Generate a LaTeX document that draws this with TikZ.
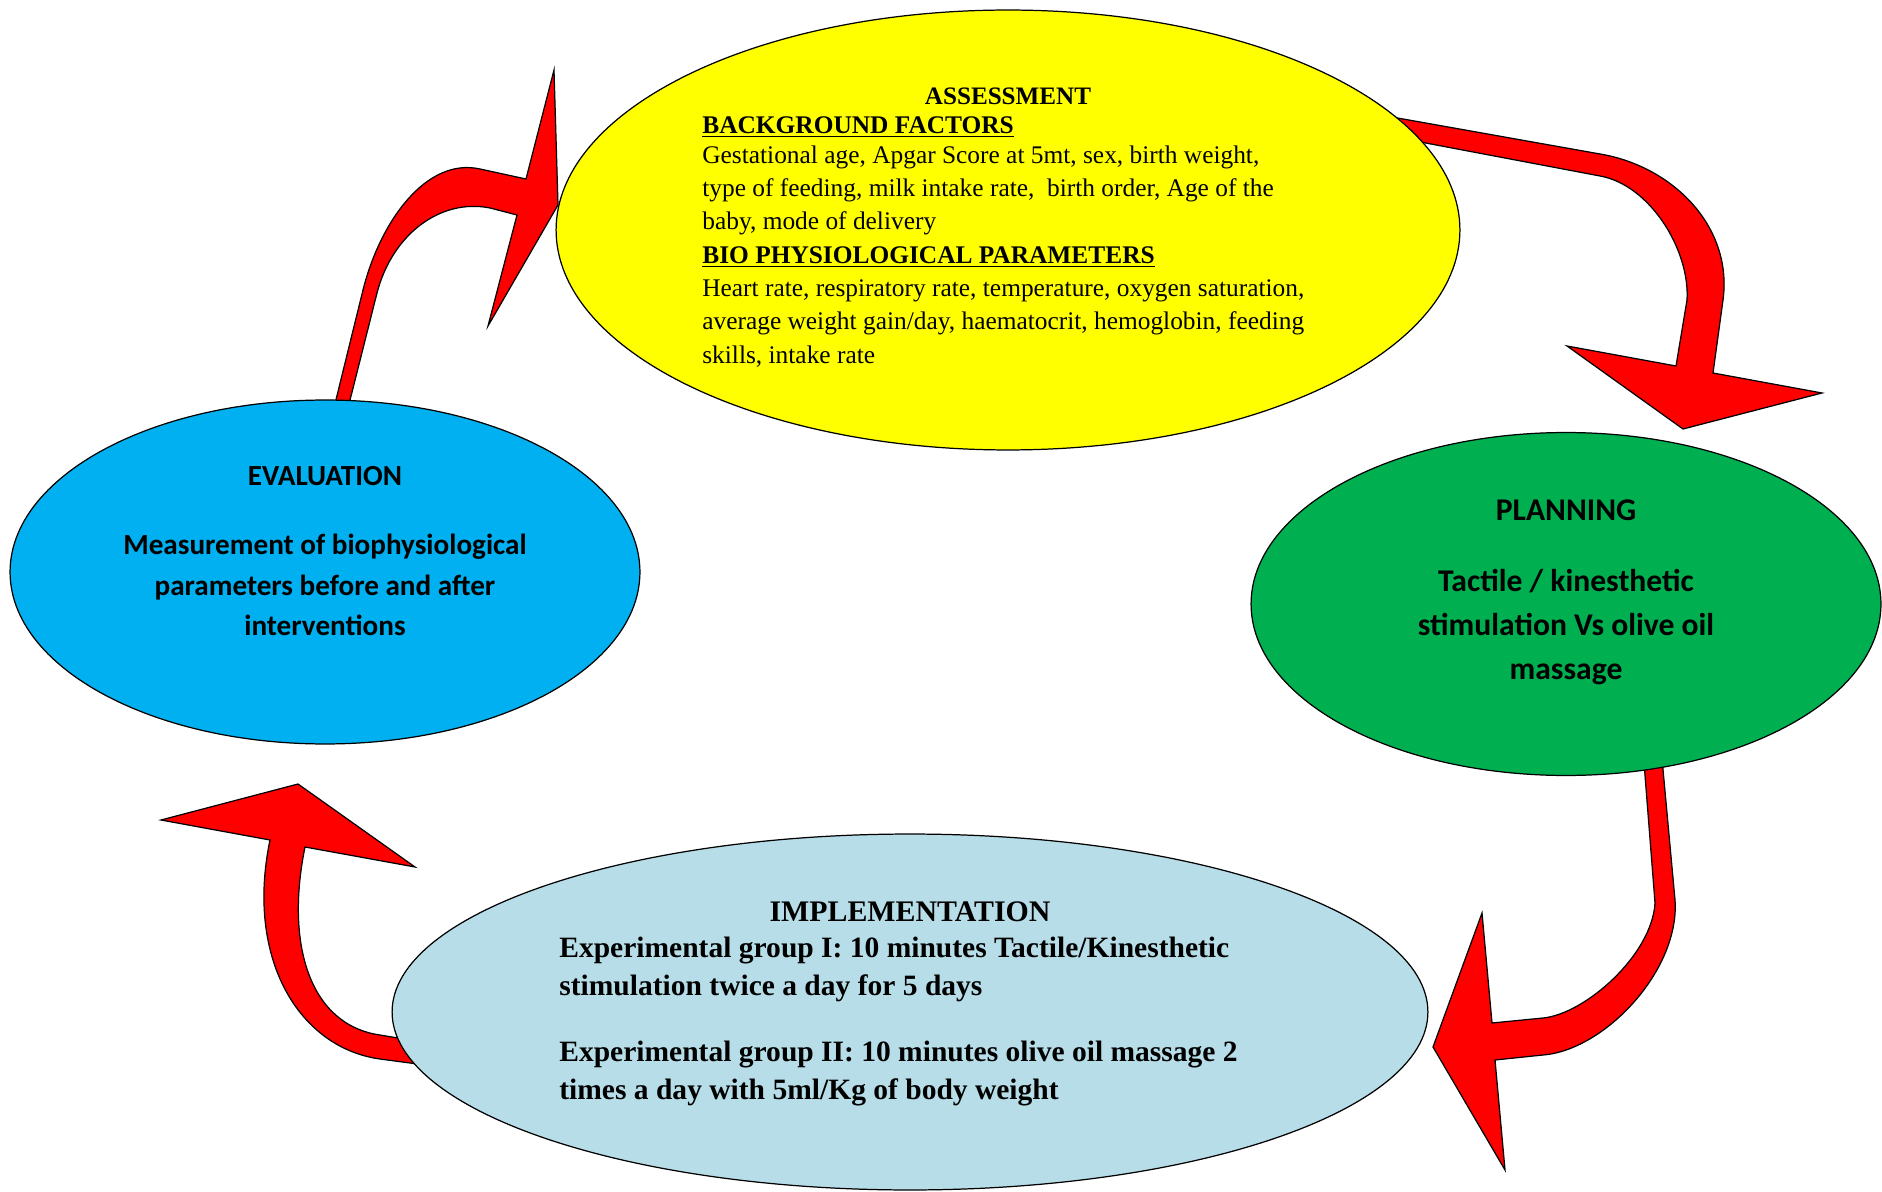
\documentclass[tikz,border=0pt]{standalone}
\usepackage{fontspec}
\setmainfont{Liberation Serif}
\newfontfamily\calib{Carlito}
\usetikzlibrary{shapes.geometric}
\newcommand{\ulhead}[1]{\leavevmode\vtop{\hbox{#1}\kern1.2pt\hrule height 1.1pt}}

\begin{document}
\begin{tikzpicture}[x=0.02cm, y=-0.02cm,
  stage/.style={ellipse, draw=black, line width=0.7pt, inner sep=0pt},
  redarrow/.style={draw=black, fill=red, line width=0.7pt, line join=miter},
  serifhead/.style={inner sep=0pt, font=\fontsize{14.3}{19}\selectfont\bfseries},
  sanshead/.style={inner sep=0pt, font=\calib\bfseries\fontsize{16.6}{23.2}\selectfont}]

\useasboundingbox (0,0) rectangle (1882,1192);

\definecolor{assessfill}{HTML}{FFFF00}
\definecolor{evalfill}{HTML}{00B0F0}
\definecolor{planfill}{HTML}{00B050}
\definecolor{implfill}{HTML}{B7DEE8}

% --- Arrow: evaluation to assessment ---
\draw[redarrow] (331,420) -- (363,290) .. controls (380,222) and (426,157) .. (480,169)
  -- (526,179) -- (554,70) -- (558,205) -- (488,326) -- (517,215) -- (490,208)
  .. controls (440,198) and (392,235) .. (377,293) -- (345,420) -- cycle;

% --- Arrow: assessment to planning ---
\draw[redarrow] (1375,114) -- (1600,154) .. controls (1672,166) and (1733,226) .. (1723,300)
  -- (1713,373) -- (1822,393) -- (1683,429) -- (1567,346) -- (1676,366) -- (1687,300)
  .. controls (1690,250) and (1650,185) .. (1600,176) -- (1378,134) -- cycle;

% --- Arrow: planning to implementation ---
\draw[redarrow] (1661,748) -- (1675,900) .. controls (1680,970) and (1605,1050) .. (1543,1055)
  -- (1495,1060) -- (1505,1170) -- (1433,1047) -- (1482,913) -- (1492,1023) -- (1543,1018)
  .. controls (1585,1014) and (1652,955) .. (1655,903) -- (1643,750) -- cycle;

% --- Arrow: implementation to evaluation ---
\draw[redarrow] (440,1067) -- (380,1059) .. controls (300,1048) and (245,960) .. (270,840)
  -- (161,820) -- (298,784) -- (415,867) -- (305,847)
  .. controls (285,945) and (310,1025) .. (380,1035) -- (440,1045) -- cycle;

% --- Stages ---
\node[stage, fill=assessfill, minimum width=18.08cm, minimum height=8.8cm] (assess) at (1008,230) {};
\node[stage, fill=evalfill, minimum width=12.6cm, minimum height=6.88cm] (eval) at (325,572) {};
\node[stage, fill=planfill, minimum width=12.6cm, minimum height=6.86cm] (plan) at (1566,604) {};
\node[stage, fill=implfill, minimum width=20.72cm, minimum height=7.12cm] (impl) at (910,1012) {};

% --- Assessment text ---
\node[serifhead] (assesstitle) at (1008,96) {ASSESSMENT};
\node[anchor=north west, align=left, inner sep=0pt, font=\fontsize{14.45}{19}\selectfont] (assessbody) at (702,116) {%
  \ulhead{\bfseries BACKGROUND FACTORS}\\[-2pt]
  Gestational age, Apgar Score at 5mt, sex, birth weight,\\
  type of feeding, milk intake rate,\ \ birth order, Age of the\\
  baby, mode of delivery\\
  \ulhead{\bfseries BIO PHYSIOLOGICAL PARAMETERS}\\
  Heart rate, respiratory rate, temperature, oxygen saturation,\\
  average weight gain/day, haematocrit, hemoglobin, feeding\\
  skills, intake rate};

% --- Evaluation text ---
\node[sanshead] (evaltitle) at (325,476) {EVALUATION};
\node[sanshead, align=center] (evalbody) at (325,585)
  {Measurement of biophysiological\\ parameters before and after\\ interventions};

% --- Planning text ---
\node[sanshead, font=\calib\bfseries\fontsize{18}{25.2}\selectfont] (plantitle) at (1566,510) {PLANNING};
\node[sanshead, align=center, font=\calib\bfseries\fontsize{18}{25.2}\selectfont] (planbody) at (1566,627)
  {Tactile / kinesthetic\\ stimulation Vs olive oil\\ massage};

% --- Implementation text ---
\node[serifhead, font=\fontsize{17}{21.5}\selectfont\bfseries] (impltitle) at (910,912) {IMPLEMENTATION};
\node[anchor=north west, align=left, inner sep=0pt, font=\fontsize{16.8}{21.5}\selectfont\bfseries] (implbody) at (559,937) {%
  Experimental group I: 10 minutes Tactile/Kinesthetic\\
  stimulation twice a day for 5 days\\[16pt]
  Experimental group II: 10 minutes olive oil massage 2\\
  times a day with 5ml/Kg of body weight};

\end{tikzpicture}
\end{document}
